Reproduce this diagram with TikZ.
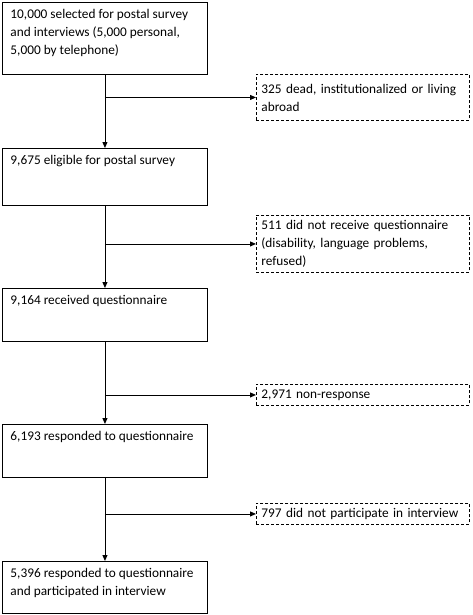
\documentclass[tikz,border=0pt]{standalone}
\usepackage{fontspec}
\setmainfont{Carlito}
\usetikzlibrary{arrows.meta}

\begin{document}
\begin{tikzpicture}[x=1pt,y=-1pt,
    every node/.style={font=\fontsize{13.3}{18}\selectfont},
    stage/.style={draw, line width=0.9pt, anchor=north west, inner xsep=8pt, inner ysep=7pt},
    drop/.style={draw, line width=0.9pt, dash pattern=on 3pt off 2pt, anchor=north west,
      inner xsep=5pt, inner ysep=0pt, align=left, text width=203pt},
    flow/.style={line width=0.9pt, -{Triangle[length=6pt,width=5pt]}}]
    \useasboundingbox (0,0) rectangle (472,615);

    \node (s1) [stage] at (2,2) {\parbox[c][58pt][t]{189pt}{10,000 selected for postal survey\\and interviews (5,000 personal,\\5,000 by telephone)}};
    \node (s2) [stage] at (2,148) {\parbox[c][43pt][t]{189pt}{9,675 eligible for postal survey}};
    \node (s3) [stage] at (2,288) {\parbox[c][39pt][t]{189pt}{9,164 received questionnaire}};
    \node (s4) [stage] at (2,424) {\parbox[c][39pt][t]{189pt}{6,193 responded to questionnaire}};
    \node (s5) [stage] at (2,561) {\parbox[c][38pt][t]{189pt}{5,396 responded to questionnaire\\and participated in interview}};

    \node (x1) [drop, minimum height=46pt] at (256,74) {325 dead, institutionalized or living\\abroad};
    \node (x2) [drop, minimum height=57pt] at (256,215) {511 did not receive questionnaire\\(disability, language problems,\\refused)};
    \node (x3) [drop, minimum height=21pt] at (256,384) {2,971 non-response};
    \node (x4) [drop, minimum height=21pt] at (256,503) {797 did not participate in interview};

    \foreach \i [count=\j from 2] in {1,...,4} {
      \draw[flow] (s\i) -- (s\j);
      \draw[flow] (s\i.south |- x\i.west) -- (x\i.west);
    }
\end{tikzpicture}
\end{document}
